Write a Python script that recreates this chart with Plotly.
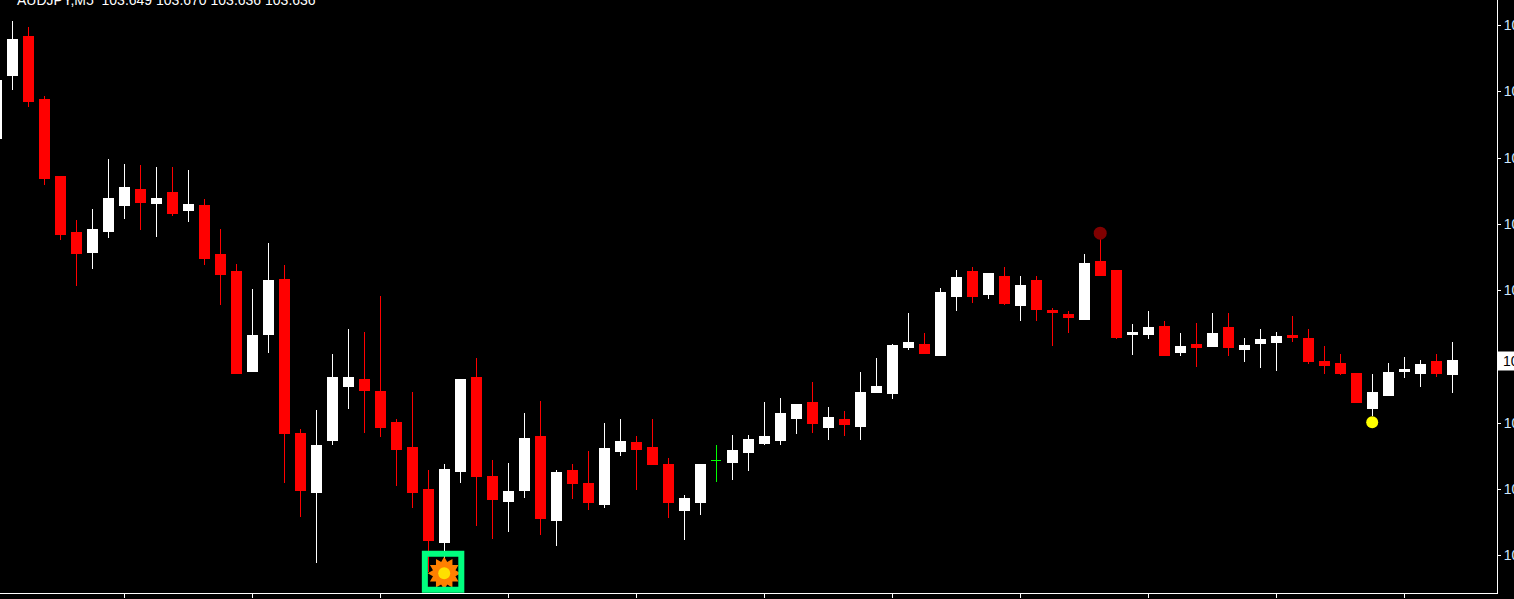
import plotly.graph_objects as go

symbol_text = "AUDJPY,M5  103.649 103.670 103.636 103.636"
current_price = 103.650
doji_index = 44
bar_index = [i for i in range(-1, 91) if i != doji_index]

opens = [
103.873,103.936,103.975,103.912,103.835,103.779,103.759,103.780,103.806,103.822,
103.808,103.819,103.801,103.806,103.757,103.740,103.640,103.677,103.732,103.578,
103.519,103.571,103.625,103.632,103.620,103.589,103.564,103.522,103.469,103.540,
103.634,103.535,103.510,103.521,103.575,103.491,103.541,103.528,103.507,103.560,
103.569,103.564,103.547,103.501,103.509,
103.549,103.559,103.568,103.571,103.593,103.609,103.584,103.592,103.585,103.619,
103.618,103.664,103.667,103.656,103.715,103.740,103.717,103.735,103.706,103.731,
103.701,103.697,103.692,103.750,103.741,103.677,103.677,103.685,103.659,103.667,
103.665,103.684,103.662,103.668,103.669,103.676,103.673,103.650,103.648,103.638,
103.603,103.616,103.640,103.638,103.650,103.637]
highs = [
103.931,103.990,103.984,103.915,103.835,103.791,103.802,103.852,103.847,103.846,
103.844,103.844,103.841,103.812,103.782,103.747,103.722,103.768,103.746,103.582,
103.601,103.657,103.682,103.679,103.715,103.592,103.619,103.541,103.547,103.632,
103.653,103.551,103.548,103.598,103.610,103.541,103.547,103.560,103.588,103.592,
103.575,103.592,103.553,103.516,103.547,
103.576,103.576,103.609,103.613,103.607,103.629,103.604,103.600,103.639,103.653,
103.667,103.698,103.678,103.723,103.741,103.744,103.738,103.744,103.735,103.735,
103.703,103.700,103.757,103.778,103.741,103.687,103.700,103.690,103.678,103.688,
103.698,103.698,103.673,103.682,103.679,103.695,103.682,103.665,103.657,103.638,
103.637,103.648,103.654,103.651,103.657,103.669]
lows = [
103.873,103.921,103.904,103.826,103.771,103.725,103.742,103.773,103.792,103.781,
103.774,103.795,103.789,103.746,103.706,103.637,103.640,103.658,103.528,103.494,
103.448,103.566,103.602,103.578,103.574,103.525,103.503,103.439,103.449,103.528,
103.485,103.472,103.479,103.513,103.476,103.465,103.512,103.501,103.503,103.555,
103.521,103.547,103.493,103.471,103.496,
103.531,103.540,103.566,103.566,103.577,103.578,103.571,103.575,103.571,103.619,
103.612,103.661,103.658,103.656,103.700,103.708,103.712,103.706,103.690,103.690,
103.665,103.678,103.692,103.736,103.672,103.656,103.672,103.656,103.655,103.644,
103.665,103.655,103.649,103.643,103.640,103.669,103.647,103.637,103.636,103.609,
103.595,103.615,103.633,103.624,103.634,103.618]
closes = [
103.931,103.972,103.910,103.833,103.777,103.758,103.782,103.813,103.824,103.809,
103.813,103.798,103.807,103.753,103.737,103.638,103.676,103.731,103.578,103.521,
103.566,103.634,103.634,103.621,103.584,103.562,103.519,103.471,103.542,103.632,
103.535,103.512,103.520,103.573,103.493,103.539,103.528,103.509,103.563,103.570,
103.562,103.547,103.509,103.513,103.547,
103.561,103.572,103.575,103.598,103.607,103.588,103.594,103.587,103.619,103.625,
103.666,103.669,103.658,103.719,103.734,103.715,103.738,103.708,103.726,103.702,
103.699,103.694,103.748,103.736,103.674,103.679,103.684,103.656,103.665,103.664,
103.678,103.664,103.666,103.672,103.675,103.674,103.650,103.646,103.638,103.609,
103.619,103.639,103.642,103.647,103.638,103.651]
doji_open = 103.551
doji_high = 103.566
doji_low = 103.529
doji_close = 103.551

y_ticks = [103.986,103.920,103.853,103.787,103.721,103.655,103.588,103.522,103.456]
y_tick_labels = ["103.986","103.920","103.853","103.787","103.721","","103.588","103.522","103.456"]
x_ticks = [7,15,23,31,39,47,55,63,71,79,87]
signal_bar = 27
signal_price = 103.438
top_marker_bar = 68
top_marker_price = 103.778
low_marker_bar = 85
low_marker_price = 103.589

fig = go.Figure()
fig.add_trace(go.Candlestick(
    x=bar_index, open=opens, high=highs, low=lows, close=closes,
    increasing=dict(line=dict(color="#FFFFFF", width=1), fillcolor="#FFFFFF"),
    decreasing=dict(line=dict(color="#FF0000", width=1), fillcolor="#FF0000"),
    whiskerwidth=0, showlegend=False, hoverinfo="skip"))
fig.add_trace(go.Candlestick(
    x=[doji_index], open=[doji_open], high=[doji_high], low=[doji_low], close=[doji_close],
    increasing=dict(line=dict(color="#00FF00", width=1), fillcolor="#00FF00"),
    decreasing=dict(line=dict(color="#00FF00", width=1), fillcolor="#00FF00"),
    whiskerwidth=0, showlegend=False, hoverinfo="skip"))

fig.add_trace(go.Scatter(x=[top_marker_bar], y=[top_marker_price], mode="markers",
    marker=dict(color="#800000", size=13), showlegend=False, hoverinfo="skip"))
fig.add_trace(go.Scatter(x=[low_marker_bar], y=[low_marker_price], mode="markers",
    marker=dict(color="#FFFF00", size=12), showlegend=False, hoverinfo="skip"))
for ang in (0, 30):
    fig.add_trace(go.Scatter(x=[signal_bar], y=[signal_price], mode="markers",
        marker=dict(color="#FF8000", size=25, symbol="hexagram", angle=ang, line=dict(width=0)),
        showlegend=False, hoverinfo="skip"))
fig.add_trace(go.Scatter(x=[signal_bar], y=[signal_price], mode="markers",
    marker=dict(color="#FFE000", size=12), showlegend=False, hoverinfo="skip"))

fig.add_shape(type="rect", xref="x", yref="y", x0=25.79, x1=28.07,
              y0=103.4215, y1=103.4575, line=dict(color="#00FF7F", width=6), fillcolor="rgba(0,0,0,0)")

fig.add_annotation(xref="paper", yref="paper", x=0, y=1, xanchor="left", yanchor="middle", xshift=15,
                   text=symbol_text, showarrow=False, font=dict(family="Liberation Sans", size=14, color="#FFFFFF"))
fig.add_annotation(xref="paper", yref="y", x=1, y=current_price, xanchor="left", yanchor="middle", xshift=0,
                   text="\u00a0" + f"{current_price:.3f}", showarrow=False, bgcolor="#FFFFFF", borderpad=1,
                   font=dict(family="Liberation Sans", size=14, color="#000000"))

fig.update_layout(
    width=1514, height=599, autosize=False,
    paper_bgcolor="#000000", plot_bgcolor="#000000",
    margin=dict(l=0, r=17, t=0, b=6), boxgap=0.12,
    showlegend=False,
    xaxis=dict(range=[-0.7625, 92.8], rangeslider=dict(visible=False), showgrid=False, zeroline=False,
               automargin=False,
               tickmode="array", tickvals=x_ticks, ticktext=[""]*len(x_ticks), ticks="outside", ticklen=4,
               tickcolor="#FFFFFF", tickwidth=1, showline=True, linecolor="#FFFFFF", linewidth=1),
    yaxis=dict(range=[103.4182, 104.0112], side="right", showgrid=False, zeroline=False,
               automargin=False,
               tickmode="array", tickvals=y_ticks, ticktext=y_tick_labels,
               ticks="outside", ticklen=3, tickcolor="#FFFFFF", tickwidth=1,
               showline=True, linecolor="#FFFFFF", linewidth=1,
               tickfont=dict(family="Liberation Sans", size=14, color="#CFE8FF")),
)
crisp = ("document.body.style.margin='0';document.body.style.overflow='hidden';"
         "document.querySelectorAll('.boxes path').forEach(function(p){"
         "p.style.strokeLinejoin='miter';p.style.shapeRendering='crispEdges';});")
fig.write_html("out.html", config={"displayModeBar": False}, post_script=crisp)
